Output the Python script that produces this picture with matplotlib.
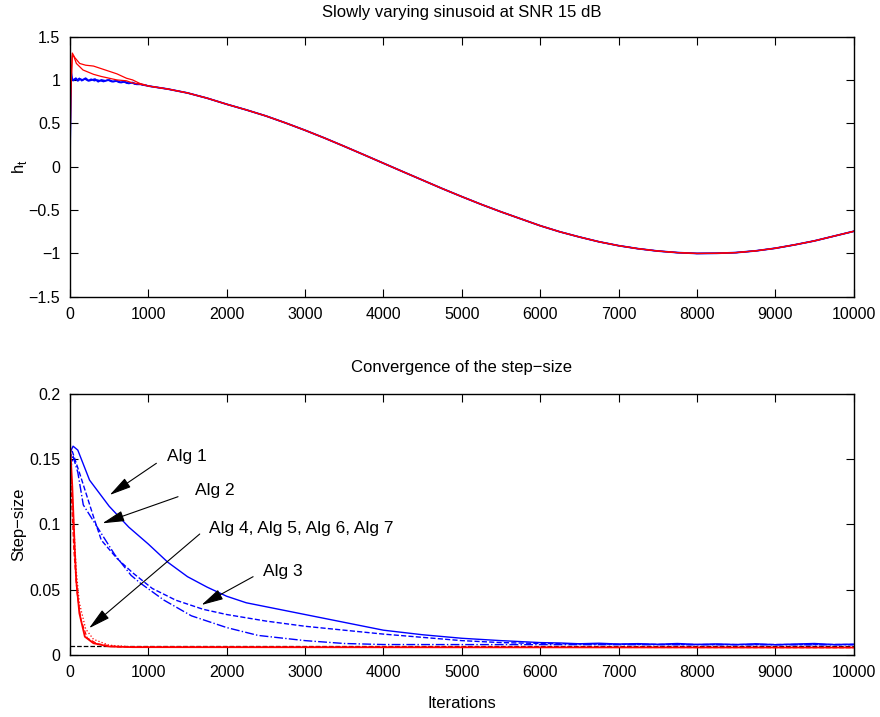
import matplotlib.pyplot as plt

plt.rcParams['font.family'] = ['Liberation Sans', 'DejaVu Sans']

# ---- top panel: tracked h_t ----
# shared part (all algorithms agree after ~1000 iterations)
t_tail = [1000, 1250, 1500, 1750, 2000, 2250, 2500, 2750, 3000, 3250, 3500, 3750,
          4000, 4250, 4500, 4750, 5000, 5250, 5500, 5750, 6000, 6250, 6500, 6750,
          7000, 7250, 7500, 7750, 8000, 8250, 8500, 8750, 9000, 9250, 9500, 9750, 10000]
h_tail = [0.93, 0.895, 0.85, 0.79, 0.72, 0.655, 0.585, 0.505, 0.42, 0.33, 0.235, 0.138,
          0.04, -0.058, -0.155, -0.252, -0.345, -0.435, -0.52, -0.60, -0.68, -0.75,
          -0.81, -0.865, -0.91, -0.945, -0.972, -0.99, -1.0, -0.998, -0.99, -0.97,
          -0.94, -0.90, -0.855, -0.80, -0.745]

# blue (Alg 1-3) start-up, noisy around 1
t_blue0 = [0, 10, 20, 30, 50, 75, 100, 130, 160, 200, 240, 280, 320, 360, 400,
           450, 500, 550, 600, 650, 700, 750, 800, 850, 900, 950]
h_blue0 = [0.0, 1.17, 1.05, 1.01, 1.00, 1.02, 0.99, 1.01, 1.00, 1.02, 0.99, 1.00,
           1.01, 0.98, 1.00, 0.99, 1.00, 0.98, 0.99, 0.97, 0.98, 0.96, 0.97, 0.95,
           0.95, 0.94]
t_blue0b = [0, 15, 25, 40, 60, 90, 120, 150, 190, 230, 270, 310, 350, 390, 430,
            480, 530, 580, 630, 680, 730, 780, 830, 880, 930, 970]
h_blue0b = [0.0, 1.10, 1.02, 0.99, 1.01, 1.00, 1.02, 0.99, 1.01, 0.99, 1.01, 0.99,
            1.00, 0.99, 0.98, 1.00, 0.98, 0.99, 0.97, 0.98, 0.96, 0.97, 0.95, 0.96,
            0.94, 0.94]

# red (Alg 4-7) start-up, overshoot then decay
t_red_a = [0, 10, 30, 60, 124, 200, 300, 400, 500, 600, 720, 800, 890, 950]
h_red_a = [0.0, 0.9, 1.31, 1.26, 1.19, 1.17, 1.16, 1.13, 1.10, 1.07, 1.02, 1.0, 0.96, 0.945]
t_red_b = [0, 10, 30, 50, 82, 166, 300, 400, 500, 600, 720, 800, 900, 950]
h_red_b = [0.0, 0.8, 1.28, 1.27, 1.19, 1.115, 1.065, 1.04, 1.02, 1.0, 0.99, 0.965, 0.95, 0.94]

# ---- bottom panel: step sizes ----
t_alg1 = [0, 40, 100, 250, 500, 750, 1000, 1250, 1500, 1750, 2000, 2250, 2500,
          3000, 3500, 4000, 4500, 5000, 5500, 6000, 6250, 6500, 6750, 7000, 7250,
          7500, 7750, 8000, 8250, 8500, 8750, 9000, 9250, 9500, 9750, 10000]
mu_alg1 = [0.155, 0.160, 0.157, 0.134, 0.114, 0.098, 0.085, 0.071, 0.060, 0.052,
           0.045, 0.040, 0.037, 0.031, 0.025, 0.019, 0.0155, 0.0128, 0.011, 0.0095,
           0.0092, 0.0086, 0.0090, 0.0084, 0.0087, 0.0082, 0.0088, 0.0081, 0.0085,
           0.0080, 0.0086, 0.0079, 0.0084, 0.0088, 0.0080, 0.0083]

t_alg3 = [0, 30, 130, 300, 400, 600, 800, 1050, 1350, 1700, 2000, 2500, 3000,
          3500, 4000, 4500, 5000, 5500, 6000, 7000, 8000, 10000]
mu_alg3 = [0.150, 0.156, 0.138, 0.106, 0.088, 0.074, 0.063, 0.051, 0.042, 0.035,
           0.031, 0.026, 0.022, 0.019, 0.016, 0.0135, 0.011, 0.0095, 0.0088, 0.0082,
           0.0080, 0.0080]

t_alg2 = [0, 40, 100, 170, 380, 570, 780, 900, 1200, 1550, 2000, 2400, 3000,
          3500, 4000, 10000]
mu_alg2 = [0.140, 0.152, 0.140, 0.115, 0.095, 0.077, 0.061, 0.055, 0.042, 0.030,
           0.021, 0.015, 0.011, 0.0088, 0.0080, 0.0078]

t_red_fast = [0, 30, 60, 80, 120, 190, 300, 500, 800, 10000]
mu_red_fast = [0.163, 0.129, 0.083, 0.057, 0.032, 0.014, 0.009, 0.0065, 0.0060, 0.0057]
t_red_slow = [0, 40, 80, 120, 200, 300, 500, 800, 10000]
mu_red_slow = [0.160, 0.110, 0.065, 0.040, 0.020, 0.012, 0.0075, 0.0062, 0.0058]
t_red_mid = [0, 20, 50, 90, 140, 220, 350, 600, 10000]
mu_red_mid = [0.150, 0.120, 0.080, 0.048, 0.027, 0.013, 0.0085, 0.0062, 0.0056]

t_ref = [0, 10000]
mu_ref = [0.0071, 0.0071]

# annotations: (label, text pos, arrow tail, arrow head)
notes = [
    ("Alg 1", (1238, 0.152), (1103, 0.1469), (507, 0.1226)),
    ("Alg 2", (1593, 0.1264), (1379, 0.1213), (414, 0.1009)),
    ("Alg 4, Alg 5, Alg 6, Alg 7", (1771, 0.0971), (1656, 0.0927), (243, 0.0205)),
    ("Alg 3", (2457, 0.0638), (2337, 0.060), (1678, 0.0383)),
]

fig = plt.figure(figsize=(8.8, 7.17), dpi=100)
ax1 = fig.add_axes([0.0795, 0.586, 0.8905, 0.363])
ax2 = fig.add_axes([0.0795, 0.0865, 0.8905, 0.364])

ax1.plot(t_blue0 + t_tail, h_blue0 + h_tail, color='b', lw=1.3)
ax1.plot(t_blue0b + t_tail, h_blue0b + h_tail, color='b', lw=1.0)
ax1.plot(t_red_a + t_tail, h_red_a + h_tail, color='r', lw=0.9)
ax1.plot(t_red_b + t_tail, h_red_b + h_tail, color='r', lw=0.9)
ax1.set_xlim(0, 10000)
ax1.set_ylim(-1.5, 1.5)
ax1.set_yticks([-1.5, -1, -0.5, 0, 0.5, 1, 1.5])
ax1.set_yticklabels(['\u22121.5', '\u22121', '\u22120.5', '0', '0.5', '1', '1.5'])
ax1.set_xticks(range(0, 10001, 1000))
ax1.set_title('Slowly varying sinusoid at SNR 15 dB', fontsize=12, pad=14)
ax1.set_ylabel(r'h$_\mathregular{t}$', fontsize=12, labelpad=0)

ax2.plot(t_ref, mu_ref, color='k', lw=0.9, ls='--')
ax2.plot(t_alg1, mu_alg1, color='b', lw=1.0)
ax2.plot(t_alg3, mu_alg3, color='b', lw=1.0, ls='--')
ax2.plot(t_alg2, mu_alg2, color='b', lw=1.0, ls='-.')
ax2.plot(t_red_slow, mu_red_slow, color='r', lw=0.9, ls=':')
ax2.plot(t_red_mid, mu_red_mid, color='r', lw=0.9, ls='--')
ax2.plot(t_red_fast, mu_red_fast, color='r', lw=1.3)
ax2.set_xlim(0, 10000)
ax2.set_ylim(0, 0.2)
ax2.set_yticks([0, 0.05, 0.1, 0.15, 0.2])
ax2.set_yticklabels(['0', '0.05', '0.1', '0.15', '0.2'])
ax2.set_xticks(range(0, 10001, 1000))
ax2.set_title('Convergence of the step\u2212size', fontsize=12, pad=16)
ax2.set_ylabel('Step\u2212size', fontsize=12, labelpad=2)
ax2.set_xlabel('Iterations', fontsize=12, labelpad=12)

for label, txt, tail, head in notes:
    ax2.text(txt[0], txt[1], label, fontsize=12.5, va='center', ha='left')
    ax2.annotate('', xy=head, xytext=tail,
                 arrowprops=dict(arrowstyle='-|>,head_length=0.9,head_width=0.22',
                                 color='k', lw=0.8, mutation_scale=15,
                                 shrinkA=0, shrinkB=0))

for ax in (ax1, ax2):
    ax.tick_params(direction='in', top=True, right=True, length=6,
                   labelsize=11.5, width=0.8, pad=7)
    for s in ax.spines.values():
        s.set_linewidth(1.0)

plt.savefig('out.png', dpi=100)
